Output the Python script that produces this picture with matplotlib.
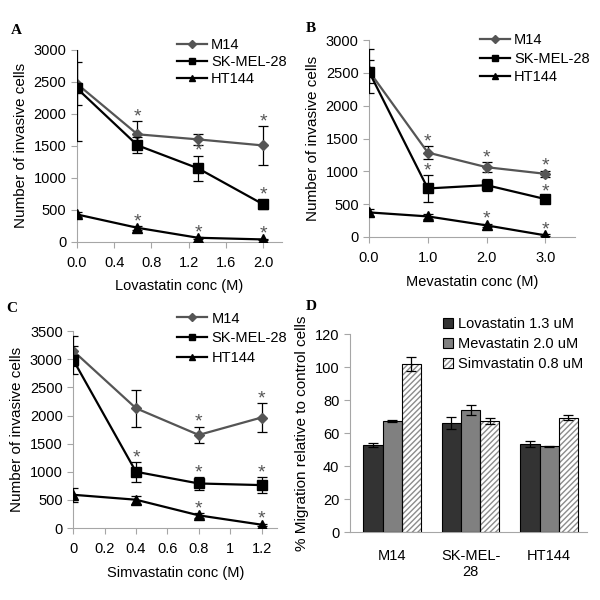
import matplotlib as mpl
import matplotlib.pyplot as plt
import numpy as np
from matplotlib.legend_handler import HandlerTuple

mpl.rcParams['font.family'] = ['Liberation Sans', 'DejaVu Sans']
mpl.rcParams['font.size'] = 10.5

series = ["M14", "SK-MEL-28", "HT144"]

# Panel A - Lovastatin
lova_x = [0.0, 0.65, 1.3, 2.0]
lova_m14 = [2470, 1680, 1600, 1505]
lova_m14_err = [340, 200, 85, 305]
lova_sk = [2400, 1508, 1148, 584]
lova_sk_err = [820, 125, 200, 75]
lova_ht = [428, 219, 63, 37]
lova_ht_err = [40, 30, 15, 10]
lova_sig = [[0, 1, 0, 1], [0, 0, 1, 1], [0, 1, 1, 1]]

# Panel B - Mevastatin
mev_x = [0.0, 1.0, 2.0, 3.0]
mev_m14 = [2530, 1287, 1064, 963]
mev_m14_err = [340, 100, 75, 50]
mev_sk = [2520, 740, 790, 578]
mev_sk_err = [180, 200, 90, 35]
mev_ht = [375, 314, 177, 25]
mev_ht_err = [50, 40, 25, 15]
mev_sig = [[0, 1, 1, 1], [0, 1, 1, 1], [0, 0, 1, 1]]

# Panel C - Simvastatin
sim_x = [0.0, 0.4, 0.8, 1.2]
sim_m14 = [3150, 2130, 1655, 1965]
sim_m14_err = [270, 330, 150, 260]
sim_sk = [2990, 1000, 792, 763]
sim_sk_err = [250, 175, 110, 140]
sim_ht = [591, 503, 225, 59]
sim_ht_err = [120, 70, 40, 20]
sim_sig = [[0, 0, 1, 1], [0, 1, 1, 1], [0, 0, 1, 1]]

# Panel D - migration
cells = ["M14", "SK-MEL-\n28", "HT144"]
treatments = ["Lovastatin 1.3 uM", "Mevastatin 2.0 uM", "Simvastatin 0.8 uM"]
migration = [[52.8, 66.0, 53.4], [67.2, 73.8, 52.0], [102.0, 67.2, 69.4]]
migration_err = [[1.2, 3.7, 2.0], [0.5, 3.0, 0.5], [4.0, 1.8, 1.5]]

axis_gray = '#a6a6a6'
line_colors = ['#555555', 'black', 'black']
markers = ['D', 's', '^']
msizes = [5.5, 7, 7]


def style_axes(ax):
    for s in ['top', 'right']:
        ax.spines[s].set_visible(False)
    for s in ['left', 'bottom']:
        ax.spines[s].set_color(axis_gray)
    ax.tick_params(color=axis_gray, length=4, labelsize=10.5)
    ax.tick_params(axis='x', pad=6)


def line_panel(ax, x, vals, errs, sig, xlim, xticks, xlabels, ylim, yticks, xlabel,
               leg_at, leg_space):
    for i, name in enumerate(series):
        ax.errorbar(x, vals[i], yerr=errs[i], fmt='none', ecolor='black', elinewidth=0.9,
                    capsize=3.5, capthick=0.9, zorder=3 + i)
        ax.plot(x, vals[i], color=line_colors[i], marker=markers[i], markersize=msizes[i],
                lw=1.6, label=name, zorder=3 + i)
        for xi, v, e, s in zip(x, vals[i], errs[i], sig[i]):
            if s:
                ax.annotate('*', (xi, v + e), xytext=(0, -3), textcoords='offset points',
                            ha='center', va='bottom', fontsize=14, color='#555555')
    style_axes(ax)
    ax.set_xlim(*xlim)
    ax.set_ylim(*ylim)
    ax.set_xticks(xticks)
    ax.set_xticklabels(xlabels)
    ax.set_yticks(yticks)
    ax.set_xlabel(xlabel, fontsize=10.5, labelpad=7)
    ax.set_ylabel("Number of invasive cells", fontsize=11)
    ax.legend(loc='upper left', bbox_to_anchor=leg_at, frameon=False, fontsize=10.5,
              handlelength=2.05, labelspacing=leg_space, borderpad=0, borderaxespad=0,
              handletextpad=0.3, markerscale=0.7)


fig = plt.figure(figsize=(6, 6), dpi=100)

axA = fig.add_axes([0.128, 0.597, 0.342, 0.32])
line_panel(axA, lova_x, [lova_m14, lova_sk, lova_ht], [lova_m14_err, lova_sk_err, lova_ht_err],
           lova_sig, (0, 2.2), [0, 0.4, 0.8, 1.2, 1.6, 2.0],
           ["0.0", "0.4", "0.8", "1.2", "1.6", "2.0"], (0, 3000), range(0, 3001, 500),
           "Lovastatin conc (M)", (0.488, 1.06), 0.2)

axB = fig.add_axes([0.615, 0.605, 0.343, 0.328])
line_panel(axB, mev_x, [mev_m14, mev_sk, mev_ht], [mev_m14_err, mev_sk_err, mev_ht_err],
           mev_sig, (0, 3.5), [0, 1, 2, 3], ["0.0", "1.0", "2.0", "3.0"],
           (0, 3000), range(0, 3001, 500), "Mevastatin conc (M)", (0.539, 1.035), 0.3)

axC = fig.add_axes([0.122, 0.12, 0.34, 0.328])
line_panel(axC, sim_x, [sim_m14, sim_sk, sim_ht], [sim_m14_err, sim_sk_err, sim_ht_err],
           sim_sig, (0, 1.3), [0, 0.2, 0.4, 0.6, 0.8, 1.0, 1.2],
           ["0", "0.2", "0.4", "0.6", "0.8", "1", "1.2"], (0, 3500), range(0, 3501, 500),
           "Simvastatin conc (M)", (0.51, 1.1), 0.4)

# Panel D
axD = fig.add_axes([0.583, 0.113, 0.395, 0.33])
xpos = np.arange(len(cells))
width = 0.245
fills = ['#333333', '#808080', 'white']
handles = []
for j, name in enumerate(treatments):
    pos = xpos + (j - 1) * width
    if j == 2:
        h1 = axD.bar(pos, migration[j], width, color='white', edgecolor='#8c8c8c',
                     hatch='//////', lw=0, zorder=2)
        h2 = axD.bar(pos, migration[j], width, fill=False, edgecolor='black', lw=0.8,
                     yerr=migration_err[j], capsize=3.5,
                     error_kw=dict(elinewidth=0.9, capthick=0.9), zorder=3)
        handles.append((h1[0], h2[0]))
    else:
        h = axD.bar(pos, migration[j], width, color=fills[j], edgecolor='black', lw=0.8,
                    yerr=migration_err[j], capsize=3.5,
                    error_kw=dict(elinewidth=0.9, capthick=0.9), zorder=3)
        handles.append(h[0])

style_axes(axD)
axD.tick_params(axis='x', length=0, pad=12)
axD.set_xlim(-0.54, 2.48)
axD.set_ylim(0, 120)
axD.set_yticks(range(0, 121, 20))
axD.set_xticks(xpos)
axD.set_xticklabels(cells)
axD.set_ylabel("% Migration relative to control cells", fontsize=11)
axD.legend(handles, treatments, loc='upper left', bbox_to_anchor=(0.392, 1.085), frameon=False,
           fontsize=10.5, handlelength=0.7, handleheight=0.7, labelspacing=0.4,
           borderpad=0, borderaxespad=0, handletextpad=0.35,
           handler_map={tuple: HandlerTuple(ndivide=1, pad=0)})

# panel letters
for letter, (lx, ly) in zip("ABCD", [(16, 31), (311, 29), (12, 308), (311, 307)]):
    fig.text(lx / 600, 1 - ly / 600, letter, ha='center', va='center', fontsize=11,
             fontweight='bold', family='Liberation Serif')

fig.savefig("out.png", dpi=100)
